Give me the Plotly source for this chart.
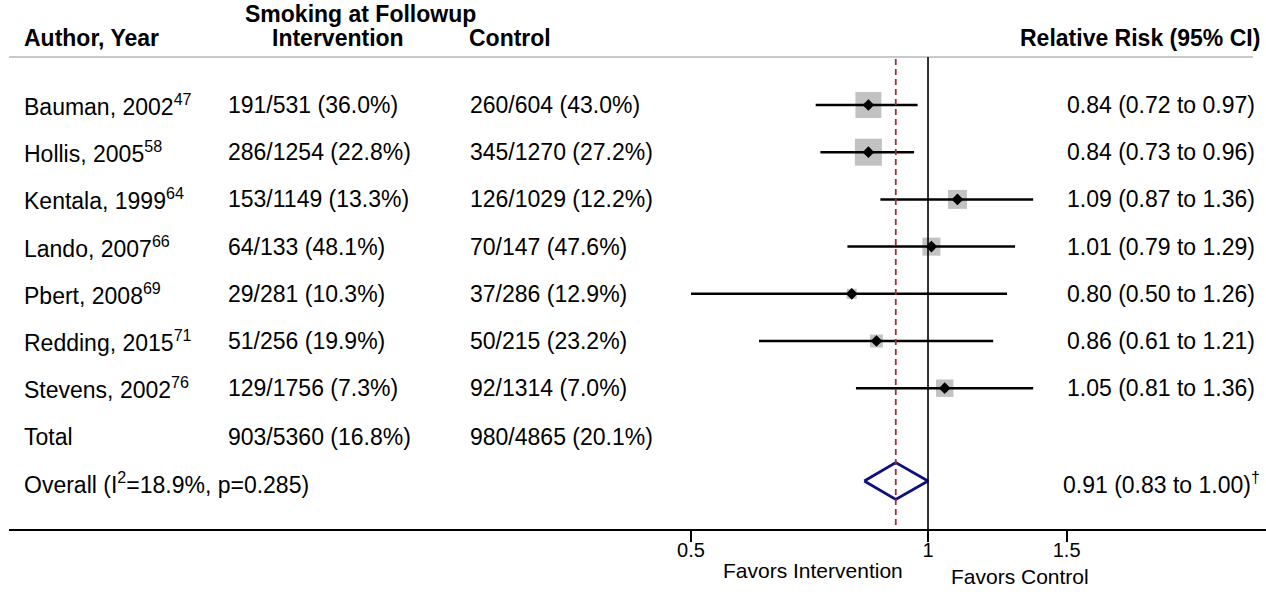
import math
import plotly.graph_objects as go

# ---------------- data ----------------
authors = ["Bauman, 2002", "Hollis, 2005", "Kentala, 1999", "Lando, 2007",
           "Pbert, 2008", "Redding, 2015", "Stevens, 2002"]
refs = ["47", "58", "64", "66", "69", "71", "76"]
int_events = [191, 286, 153, 64, 29, 51, 129]
int_totals = [531, 1254, 1149, 133, 281, 256, 1756]
int_pct = [36.0, 22.8, 13.3, 48.1, 10.3, 19.9, 7.3]
ctl_events = [260, 345, 126, 70, 37, 50, 92]
ctl_totals = [604, 1270, 1029, 147, 286, 215, 1314]
ctl_pct = [43.0, 27.2, 12.2, 47.6, 12.9, 23.2, 7.0]
rr = [0.84, 0.84, 1.09, 1.01, 0.80, 0.86, 1.05]
rr_lo = [0.72, 0.73, 0.87, 0.79, 0.50, 0.61, 0.81]
rr_hi = [0.97, 0.96, 1.36, 1.29, 1.26, 1.21, 1.36]
weights = [25.4, 27.4, 13.5, 12.2, 3.8, 6.3, 11.4]   # study weights (%)

total_int = (903, 5360, 16.8)
total_ctl = (980, 4865, 20.1)
overall_rr, overall_lo, overall_hi = 0.91, 0.83, 1.00
overall_i2, overall_p = 18.9, 0.285

tick_vals = [0.5, 1, 1.5]
tick_text = ["0.5", "1", "1.5"]

# ---------------- layout geometry ----------------
W, H = 1266, 600
ML, MB = 9, 71
PLOT_W = W - ML
PLOT_H = H - MB          # axis line at pixel y = 529
X_RANGE = [-1.1673, 0.4293]

FONT = "Liberation Sans, Arial, Helvetica, sans-serif"
FS = 23

row_y0, row_dy = 105, 47.2
row_ys = [row_y0 + i * row_dy for i in range(len(authors))]
total_y = 437
overall_y = 481
sep_y = 57


def px(p):
    return (p - ML) / PLOT_W


def py(p):
    return (PLOT_H - p) / PLOT_H


fig = go.Figure()

# weight boxes
box_sizes = [5.16 * math.sqrt(w) for w in weights]
fig.add_trace(go.Scatter(
    x=rr, y=row_ys, mode="markers",
    marker=dict(symbol="square", size=box_sizes, color="#a8a8a8",
                line=dict(width=0)),
    hoverinfo="skip", showlegend=False))

# CI lines
ci_x, ci_y = [], []
for lo, hi, y in zip(rr_lo, rr_hi, row_ys):
    ci_x += [lo, hi, None]
    ci_y += [y, y, None]
fig.add_trace(go.Scatter(x=ci_x, y=ci_y, mode="lines",
                         line=dict(color="black", width=2.5),
                         hoverinfo="skip", showlegend=False))

# point estimates
fig.add_trace(go.Scatter(
    x=rr, y=row_ys, mode="markers",
    marker=dict(symbol="diamond", size=9, color="black"),
    hoverinfo="skip", showlegend=False))

# overall diamond
dh = 18.5
fig.add_trace(go.Scatter(
    x=[overall_lo, overall_rr, overall_hi, overall_rr, overall_lo],
    y=[overall_y, overall_y - dh, overall_y, overall_y + dh, overall_y],
    mode="lines", line=dict(color="#10107a", width=2.8),
    hoverinfo="skip", showlegend=False))

shapes = [
    dict(type="line", xref="paper", yref="y", x0=px(9), x1=px(1253),
         y0=sep_y, y1=sep_y, line=dict(color="#c9c9c9", width=2)),
    dict(type="line", xref="x", yref="y", x0=1, x1=1, y0=sep_y, y1=PLOT_H,
         line=dict(color="black", width=1.6)),
    dict(type="line", xref="x", yref="y", x0=overall_rr, x1=overall_rr,
         y0=sep_y + 2, y1=PLOT_H,
         line=dict(color="#9e2f3a", width=1.8, dash="6px,4px")),
]

ann = []


def text(x, y, s, anchor="left", bold=False, size=FS):
    ann.append(dict(xref="paper", yref="y", x=px(x), y=y,
                    text=("<b>" + s + "</b>") if bold else s,
                    showarrow=False, xanchor=anchor, yanchor="middle",
                    font=dict(family=FONT, size=size, color="black")))


# headers
text(360, 14, "Smoking at Followup", anchor="center", bold=True)
text(22, 38, "Author, Year", bold=True)
text(338, 38, "Intervention", anchor="center", bold=True)
text(510, 38, "Control", anchor="center", bold=True)
text(1262, 38, "Relative Risk (95% CI)", anchor="right", bold=True)

text_dy = 0
for i, y in enumerate(row_ys):
    yt = y + text_dy
    text(22, yt, f"{authors[i]}<sup>{refs[i]}</sup>")
    text(226, yt, f"{int_events[i]}/{int_totals[i]} ({int_pct[i]:.1f}%)")
    text(468, yt, f"{ctl_events[i]}/{ctl_totals[i]} ({ctl_pct[i]:.1f}%)")
    text(1161, yt, f"{rr[i]:.2f} ({rr_lo[i]:.2f} to {rr_hi[i]:.2f})",
         anchor="center")

text(22, total_y, "Total")
text(226, total_y, f"{total_int[0]}/{total_int[1]} ({total_int[2]:.1f}%)")
text(468, total_y, f"{total_ctl[0]}/{total_ctl[1]} ({total_ctl[2]:.1f}%)")

text(22, overall_y + 2,
     f"Overall (I<sup>2</sup>={overall_i2}%, p={overall_p})")
text(1161, overall_y + 2,
     f"{overall_rr:.2f} ({overall_lo:.2f} to {overall_hi:.2f})<sup>†</sup>",
     anchor="center")

# below-axis labels
for s, x, y in [("Favors Intervention", 813, 570), ("Favors Control", 1020, 576)]:
    ann.append(dict(xref="paper", yref="paper", x=px(x), y=py(y), text=s,
                    showarrow=False, xanchor="center", yanchor="middle",
                    font=dict(family=FONT, size=21, color="black")))

fig.update_layout(
    width=W, height=H,
    margin=dict(l=ML, r=0, t=0, b=MB, pad=0),
    paper_bgcolor="white", plot_bgcolor="white",
    shapes=shapes, annotations=ann, showlegend=False,
    xaxis=dict(type="log", range=X_RANGE, showgrid=False, zeroline=False,
               showline=True, linecolor="black", linewidth=2,
               ticks="outside", ticklen=11, tickwidth=2, tickcolor="black",
               tickvals=tick_vals, ticktext=tick_text,
               ticklabelstandoff=-9,
               tickfont=dict(family=FONT, size=20, color="black"),
               fixedrange=True),
    yaxis=dict(range=[PLOT_H, 0], visible=False, fixedrange=True),
)

fig.write_html("out.html",
               config={"displayModeBar": False},
               post_script="document.body.style.margin='0';"
                           "document.body.style.overflow='hidden';")
